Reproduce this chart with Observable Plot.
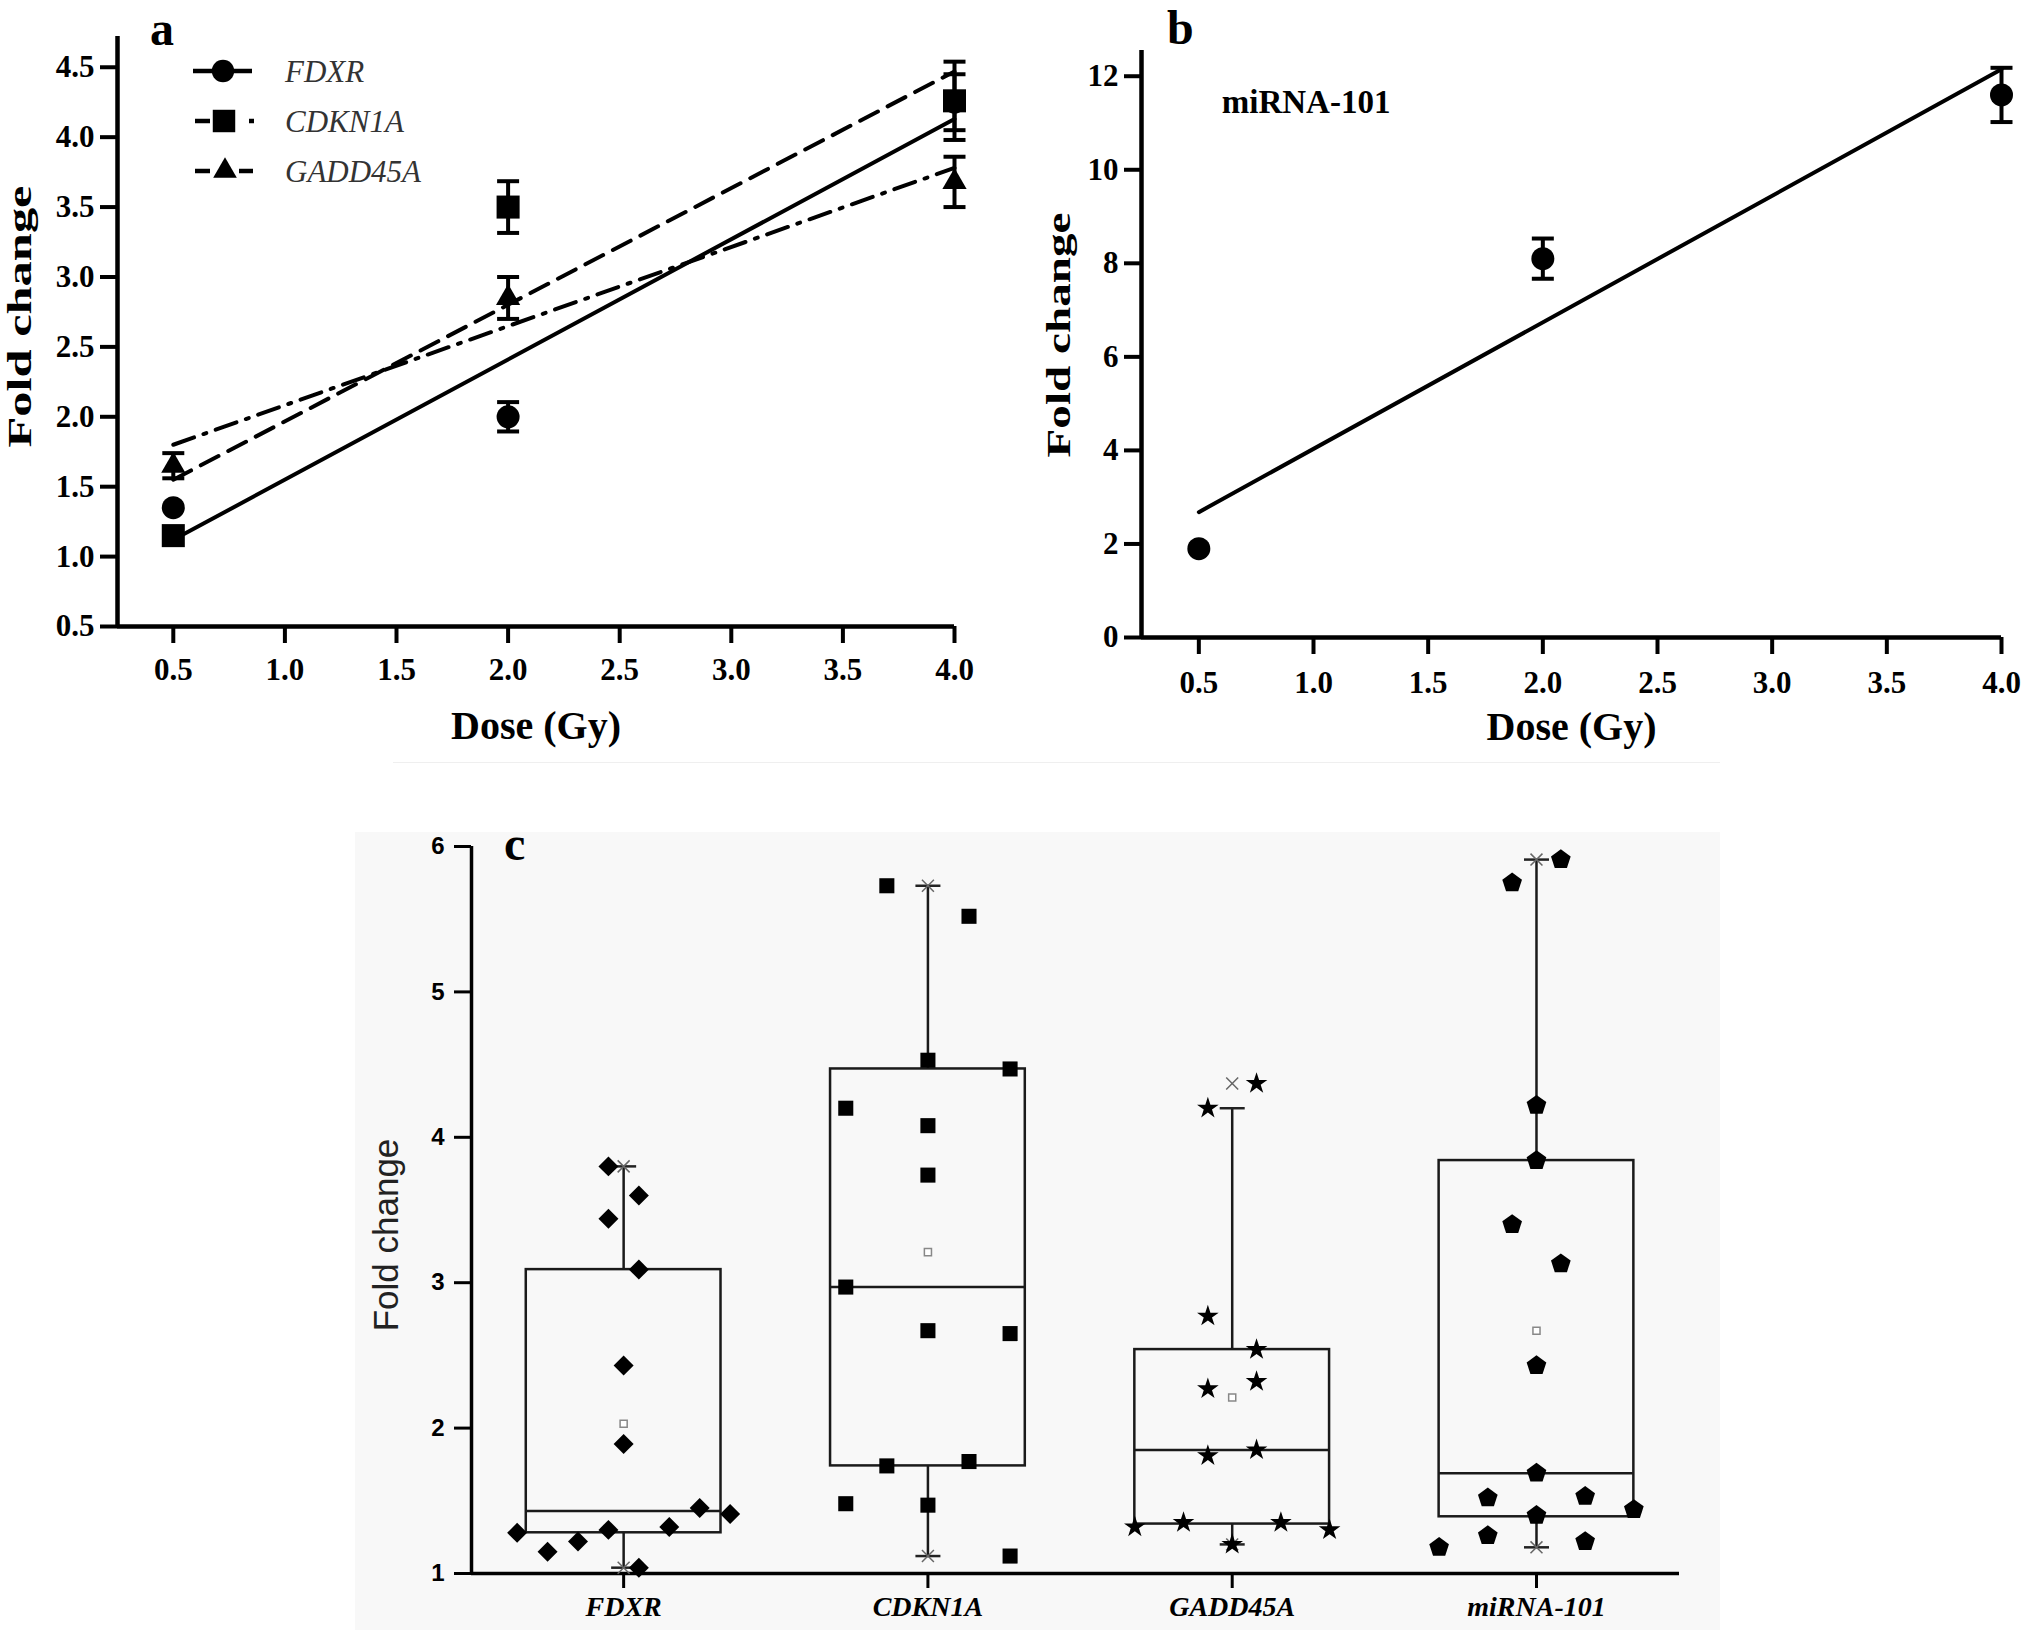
<!DOCTYPE html>
<html><head><meta charset="utf-8">
<script src="https://cdn.jsdelivr.net/npm/d3@7"></script>
<script src="https://cdn.jsdelivr.net/npm/@observablehq/plot@0.6"></script>
<style>
body{margin:0;background:#fff;}
#wrap{position:relative;width:2026px;height:1630px;overflow:hidden;background:#fff;}
.pane{position:absolute;}
</style></head><body><div id="wrap"></div>
<script>
// ---------- Panel a data ----------
const doses = [0.5, 2.0, 4.0];
const genesA = ["FDXR", "CDKN1A", "GADD45A"];
const fdxrMean = [1.35, 2.00, 4.25];
const fdxrSem = [0, 0.105, 0.20];
const cdkn1aMean = [1.15, 3.50, 4.26];
const cdkn1aSem = [0, 0.185, 0.28];
const gadd45aMean = [1.65, 2.85, 3.68];
const gadd45aSem = [0.09, 0.15, 0.18];
const fitAStart = [1.12, 1.55, 1.80];   // fitted value at lowest dose
const fitAEnd = [4.13, 4.47, 3.78];     // fitted value at highest dose
const yTicksA = [0.5, 1.0, 1.5, 2.0, 2.5, 3.0, 3.5, 4.0, 4.5];
const xTicks = [0.5, 1.0, 1.5, 2.0, 2.5, 3.0, 3.5, 4.0];

// ---------- Panel b data ----------
const mirMean = [1.90, 8.10, 11.60];
const mirSem = [0, 0.43, 0.58];
const mirFit = [2.68, 12.15];
const yTicksB = [0, 2, 4, 6, 8, 10, 12];
const labelB = ["miRNA-101"];
const labelBPos = [0.6, 11.44];

// ---------- Panel c data ----------
const catsC = ["FDXR", "CDKN1A", "GADD45A", "miRNA-101"];
const fdxrFold = [3.80, 3.60, 3.44, 3.09, 2.43, 1.89, 1.28, 1.15, 1.22, 1.30, 1.32, 1.45, 1.41, 1.04];
const fdxrJit  = [-0.05, 0.05, -0.05, 0.05, 0, 0, -0.35, -0.25, -0.15, -0.05, 0.15, 0.25, 0.35, 0.05];
const cdkn1aFold = [5.73, 5.52, 4.53, 4.47, 4.20, 4.08, 3.74, 2.97, 2.67, 2.65, 1.74, 1.77, 1.48, 1.47, 1.12];
const cdkn1aJit  = [-0.135, 0.135, 0, 0.27, -0.27, 0, 0, -0.27, 0, 0.27, -0.135, 0.135, -0.27, 0, 0.27];
const gadd45aFold = [4.37, 4.20, 2.77, 2.54, 2.27, 2.32, 1.81, 1.85, 1.32, 1.35, 1.35, 1.30, 1.20];
const gadd45aJit  = [0.08, -0.08, -0.08, 0.08, -0.08, 0.08, -0.08, 0.08, -0.32, -0.16, 0.16, 0.32, 0];
const mirFold = [5.91, 5.75, 4.22, 3.84, 3.40, 3.13, 2.43, 1.69, 1.52, 1.53, 1.44, 1.40, 1.26, 1.22, 1.18];
const mirJit  = [0.08, -0.08, 0, 0, -0.08, 0.08, 0, 0, -0.16, 0.16, 0.32, 0, -0.16, 0.16, -0.32];
const boxQ1  = [1.28, 1.74, 1.34, 1.39];
const boxMed = [1.43, 2.97, 1.85, 1.69];
const boxQ3  = [3.09, 4.47, 2.54, 3.84];
const whiskLo = [1.04, 1.12, 1.20, 1.18];
const whiskHi = [3.80, 5.73, 4.20, 5.91];
const minV = [1.04, 1.12, 1.20, 1.18];
const maxV = [3.80, 5.73, 4.37, 5.91];
const meanV = [2.03, 3.21, 2.21, 2.67];
const yTicksC = [1, 2, 3, 4, 5, 6];

// ---------- helpers ----------
const serif = "'Liberation Serif','Times New Roman',serif";
const sans = "'Liberation Sans',Arial,sans-serif";
const capSym = {draw(ctx, size) { const w = Math.sqrt(size / Math.PI); ctx.moveTo(-w, 0); ctx.lineTo(w, 0); }};
const pentSym = {draw(ctx, size) {
  const R = Math.sqrt(size / 2.3776);
  for (let k = 0; k < 5; k++) {
    const a = -Math.PI / 2 + k * 2 * Math.PI / 5;
    const x = R * Math.cos(a), y = R * Math.sin(a);
    if (k) ctx.lineTo(x, y); else ctx.moveTo(x, y);
  }
  ctx.closePath();
}};
const wrap = document.getElementById("wrap");
function place(el, left, top) {
  el.classList.add("pane"); el.style.left = left + "px"; el.style.top = top + "px"; wrap.appendChild(el);
}
// the reference stretches its rotated y titles along their length
function stretchTitle(svg, label, len) {
  d3.select(svg).selectAll("text").filter(function() { return this.textContent === label; })
    .attr("textLength", len).attr("lengthAdjust", "spacingAndGlyphs");
}

// panel c background & separator
const bg = document.createElement("div");
Object.assign(bg.style, {position: "absolute", left: "355px", top: "832px", width: "1365px", height: "798px", background: "#f8f8f8"});
wrap.appendChild(bg);
const sep = document.createElement("div");
Object.assign(sep.style, {position: "absolute", left: "393px", top: "762px", width: "1327px", height: "1px", background: "#efefef"});
wrap.appendChild(sep);

// ---------- Panel a ----------
const meansA = [fdxrMean, cdkn1aMean, gadd45aMean];
const semsA = [fdxrSem, cdkn1aSem, gadd45aSem];
const rowsA = genesA.flatMap((g, k) => doses.map((d, i) => ({gene: g, dose: d, y: meansA[k][i], e: semsA[k][i]})));
const errA = rowsA.filter(d => d.e > 0);
const fitRowsA = genesA.flatMap((g, k) => [
  {gene: g, dose: doses[0], y: fitAStart[k]},
  {gene: g, dose: doses[doses.length - 1], y: fitAEnd[k]}
]);
const dashA = {FDXR: undefined, CDKN1A: "20,11", GADD45A: "22,10,3,10"};
const symA = {FDXR: "circle", CDKN1A: "square", GADD45A: "triangle"};
const rA = {FDXR: 11.5, CDKN1A: 13, GADD45A: 9};

const plotA = Plot.plot({
  width: 1013, height: 760,
  marginLeft: 117, marginRight: 59, marginTop: 36, marginBottom: 134,
  x: {domain: [0.25, 4.0]},
  y: {domain: [0.5, 4.72]},
  style: {fontFamily: serif, fontWeight: "bold", fontSize: "30px", background: "transparent", color: "black", overflow: "visible"},
  marks: [
    Plot.axisY({ticks: yTicksA, tickFormat: d3.format(".1f"), tickSize: 17, tickPadding: 6, strokeWidth: 4, label: null, fontSize: 31}),
    Plot.axisX({ticks: xTicks, tickFormat: d3.format(".1f"), tickSize: 17, tickPadding: 14, strokeWidth: 4, label: null, fontSize: 31}),
    Plot.ruleX([0.25], {strokeWidth: 4.5}),
    Plot.ruleY([0.5], {strokeWidth: 4.5}),
    ...genesA.map(g => Plot.line(fitRowsA.filter(d => d.gene === g), {x: "dose", y: "y", stroke: "black", strokeWidth: 4, strokeDasharray: dashA[g]})),
    Plot.ruleX(errA, {x: "dose", y1: d => d.y - d.e, y2: d => d.y + d.e, strokeWidth: 4}),
    Plot.dot(errA, {x: "dose", y: d => d.y + d.e, symbol: capSym, r: 11, stroke: "black", strokeWidth: 4, fill: "none"}),
    Plot.dot(errA, {x: "dose", y: d => d.y - d.e, symbol: capSym, r: 11, stroke: "black", strokeWidth: 4, fill: "none"}),
    ...genesA.map(g => Plot.dot(rowsA.filter(d => d.gene === g), {x: "dose", y: "y", symbol: symA[g], r: rA[g], fill: "black", stroke: "none"})),
    Plot.text(["Fold change"], {text: d => d, frameAnchor: "left", textAnchor: "middle", lineAnchor: "middle", rotate: -90, dx: -97, dy: -15, fontSize: 33}),
    Plot.text(["Dose (Gy)"], {text: d => d, frameAnchor: "bottom", textAnchor: "middle", lineAnchor: "middle", dy: 100, fontSize: 40})
  ]
});
stretchTitle(plotA, "Fold change", 262);
place(plotA, 0, 0);

// ---------- Panel b ----------
const rowsB = doses.map((d, i) => ({dose: d, y: mirMean[i], e: mirSem[i]}));
const errB = rowsB.filter(d => d.e > 0);
const fitRowsB = [{dose: doses[0], y: mirFit[0]}, {dose: doses[doses.length - 1], y: mirFit[1]}];
const plotB = Plot.plot({
  width: 1013, height: 760,
  marginLeft: 128, marginRight: 25, marginTop: 50, marginBottom: 123,
  x: {domain: [0.25, 4.0]},
  y: {domain: [0, 12.55]},
  style: {fontFamily: serif, fontWeight: "bold", fontSize: "30px", background: "transparent", color: "black", overflow: "visible"},
  marks: [
    Plot.axisY({ticks: yTicksB, tickFormat: d3.format("d"), tickSize: 17, tickPadding: 6, strokeWidth: 4, label: null, fontSize: 31}),
    Plot.axisX({ticks: xTicks, tickFormat: d3.format(".1f"), tickSize: 17, tickPadding: 16, strokeWidth: 4, label: null, fontSize: 31}),
    Plot.ruleX([0.25], {strokeWidth: 4.5}),
    Plot.ruleY([0], {strokeWidth: 4.5}),
    Plot.line(fitRowsB, {x: "dose", y: "y", stroke: "black", strokeWidth: 4}),
    Plot.ruleX(errB, {x: "dose", y1: d => d.y - d.e, y2: d => d.y + d.e, strokeWidth: 4}),
    Plot.dot(errB, {x: "dose", y: d => d.y + d.e, symbol: capSym, r: 11, stroke: "black", strokeWidth: 4, fill: "none"}),
    Plot.dot(errB, {x: "dose", y: d => d.y - d.e, symbol: capSym, r: 11, stroke: "black", strokeWidth: 4, fill: "none"}),
    Plot.dot(rowsB, {x: "dose", y: "y", symbol: "circle", r: 11.5, fill: "black", stroke: "none"}),
    Plot.text(labelB, {text: d => d, x: labelBPos[0], y: labelBPos[1], textAnchor: "start", lineAnchor: "middle", fontSize: 33}),
    Plot.text(["Fold change"], {text: d => d, frameAnchor: "left", textAnchor: "middle", lineAnchor: "middle", rotate: -90, dx: -82, dy: -9, fontSize: 33}),
    Plot.text(["Dose (Gy)"], {text: d => d, frameAnchor: "bottom", textAnchor: "middle", lineAnchor: "middle", dy: 90, fontSize: 40})
  ]
});
stretchTitle(plotB, "Fold change", 245);
place(plotB, 1013, 0);

// ---------- Panel c ----------
const groupsC = [
  {vals: fdxrFold, jit: fdxrJit, sym: "diamond2", r: 9},
  {vals: cdkn1aFold, jit: cdkn1aJit, sym: "square", r: 8.5},
  {vals: gadd45aFold, jit: gadd45aJit, sym: "star", r: 6.8},
  {vals: mirFold, jit: mirJit, sym: pentSym, r: 9}
];
const idx = catsC.map((_, i) => i);
const boxHalf = 0.32;
const plotC = Plot.plot({
  width: 2026, height: 870,
  marginLeft: 471, marginRight: 347, marginTop: 86, marginBottom: 57,
  x: {domain: [-0.5, 3.47]},
  y: {domain: [1, 6]},
  style: {fontFamily: sans, fontSize: "23px", background: "transparent", color: "black", overflow: "visible"},
  marks: [
    Plot.axisY({ticks: yTicksC, tickFormat: d3.format("d"), tickSize: 17, tickPadding: 10, strokeWidth: 3, label: null, fontSize: 24, fontWeight: "bold", fontFamily: sans}),
    Plot.axisX({ticks: idx, tickFormat: i => catsC[i], tickSize: 15, tickPadding: 8, strokeWidth: 3, label: null, fontSize: 28, fontWeight: "bold", fontStyle: "italic", fontFamily: serif}),
    Plot.ruleX([-0.5], {strokeWidth: 3.5}),
    Plot.ruleY([1], {strokeWidth: 3.5}),
    Plot.rect(idx, {x1: i => i - boxHalf, x2: i => i + boxHalf, y1: i => boxQ1[i], y2: i => boxQ3[i], fill: "none", stroke: "#1a1a1a", strokeWidth: 2.5}),
    Plot.ruleY(idx, {x1: i => i - boxHalf, x2: i => i + boxHalf, y: i => boxMed[i], stroke: "#1a1a1a", strokeWidth: 2.5}),
    Plot.ruleX(idx, {x: i => i, y1: i => boxQ3[i], y2: i => whiskHi[i], stroke: "#1a1a1a", strokeWidth: 2.5}),
    Plot.ruleX(idx, {x: i => i, y1: i => whiskLo[i], y2: i => boxQ1[i], stroke: "#1a1a1a", strokeWidth: 2.5}),
    Plot.dot(idx, {x: i => i, y: i => whiskHi[i], symbol: capSym, r: 12.5, stroke: "#222", strokeWidth: 2.5, fill: "none"}),
    Plot.dot(idx, {x: i => i, y: i => whiskLo[i], symbol: capSym, r: 12.5, stroke: "#222", strokeWidth: 2.5, fill: "none"}),
    Plot.dot(idx, {x: i => i, y: i => maxV[i], symbol: "times", r: 5.5, stroke: "#666", strokeWidth: 1.5}),
    Plot.dot(idx, {x: i => i, y: i => minV[i], symbol: "times", r: 5.5, stroke: "#666", strokeWidth: 1.5}),
    Plot.dot(idx, {x: i => i, y: i => meanV[i], symbol: "square", r: 4, stroke: "#888", fill: "white", strokeWidth: 1.5}),
    ...groupsC.map((g, i) => Plot.dot(g.vals.map((v, k) => ({x: i + g.jit[k], v})), {x: "x", y: "v", symbol: g.sym, r: g.r, fill: "black", stroke: "none"})),
    Plot.text(["Fold change"], {text: d => d, frameAnchor: "left", textAnchor: "middle", lineAnchor: "middle", rotate: -90, dx: -85, dy: 25, fontSize: 35, fontFamily: sans, fill: "#222"})
  ]
});
place(plotC, 0, 760);

// ---------- overlay: panel letters and legend ----------
const ov = d3.select(wrap).append("svg")
  .attr("width", 2026).attr("height", 1630)
  .style("position", "absolute").style("left", 0).style("top", 0).style("pointer-events", "none");
const letters = [{t: "a", x: 150, y: 45}, {t: "b", x: 1167, y: 44}, {t: "c", x: 504, y: 860}];
ov.selectAll("text.letter").data(letters).join("text").attr("class", "letter")
  .attr("x", d => d.x).attr("y", d => d.y).text(d => d.t)
  .attr("font-family", serif).attr("font-weight", "bold").attr("font-size", 48);

const legRows = genesA.map((g, k) => ({g, y: 71 + k * 50}));
const legSeg = {FDXR: [[193, 252]], CDKN1A: [[195, 210], [249, 254]], GADD45A: [[195, 210], [239, 253]]};
const legSymX = {FDXR: 223, CDKN1A: 224, GADD45A: 225};
const d3sym = {circle: d3.symbolCircle, square: d3.symbolSquare, triangle: d3.symbolTriangle};
legRows.forEach(row => {
  legSeg[row.g].forEach(s => ov.append("line").attr("x1", s[0]).attr("x2", s[1]).attr("y1", row.y).attr("y2", row.y)
    .attr("stroke", "black").attr("stroke-width", 4.5));
  ov.append("path").attr("transform", `translate(${legSymX[row.g]},${row.y})`)
    .attr("d", d3.symbol(d3sym[symA[row.g]], Math.PI * rA[row.g] * rA[row.g] * 0.95)()).attr("fill", "black");
  ov.append("text").attr("x", 285).attr("y", row.y).attr("dy", "0.35em").text(row.g)
    .attr("font-family", serif).attr("font-style", "italic").attr("font-size", 31).attr("fill", "#333");
});
</script></body></html>
